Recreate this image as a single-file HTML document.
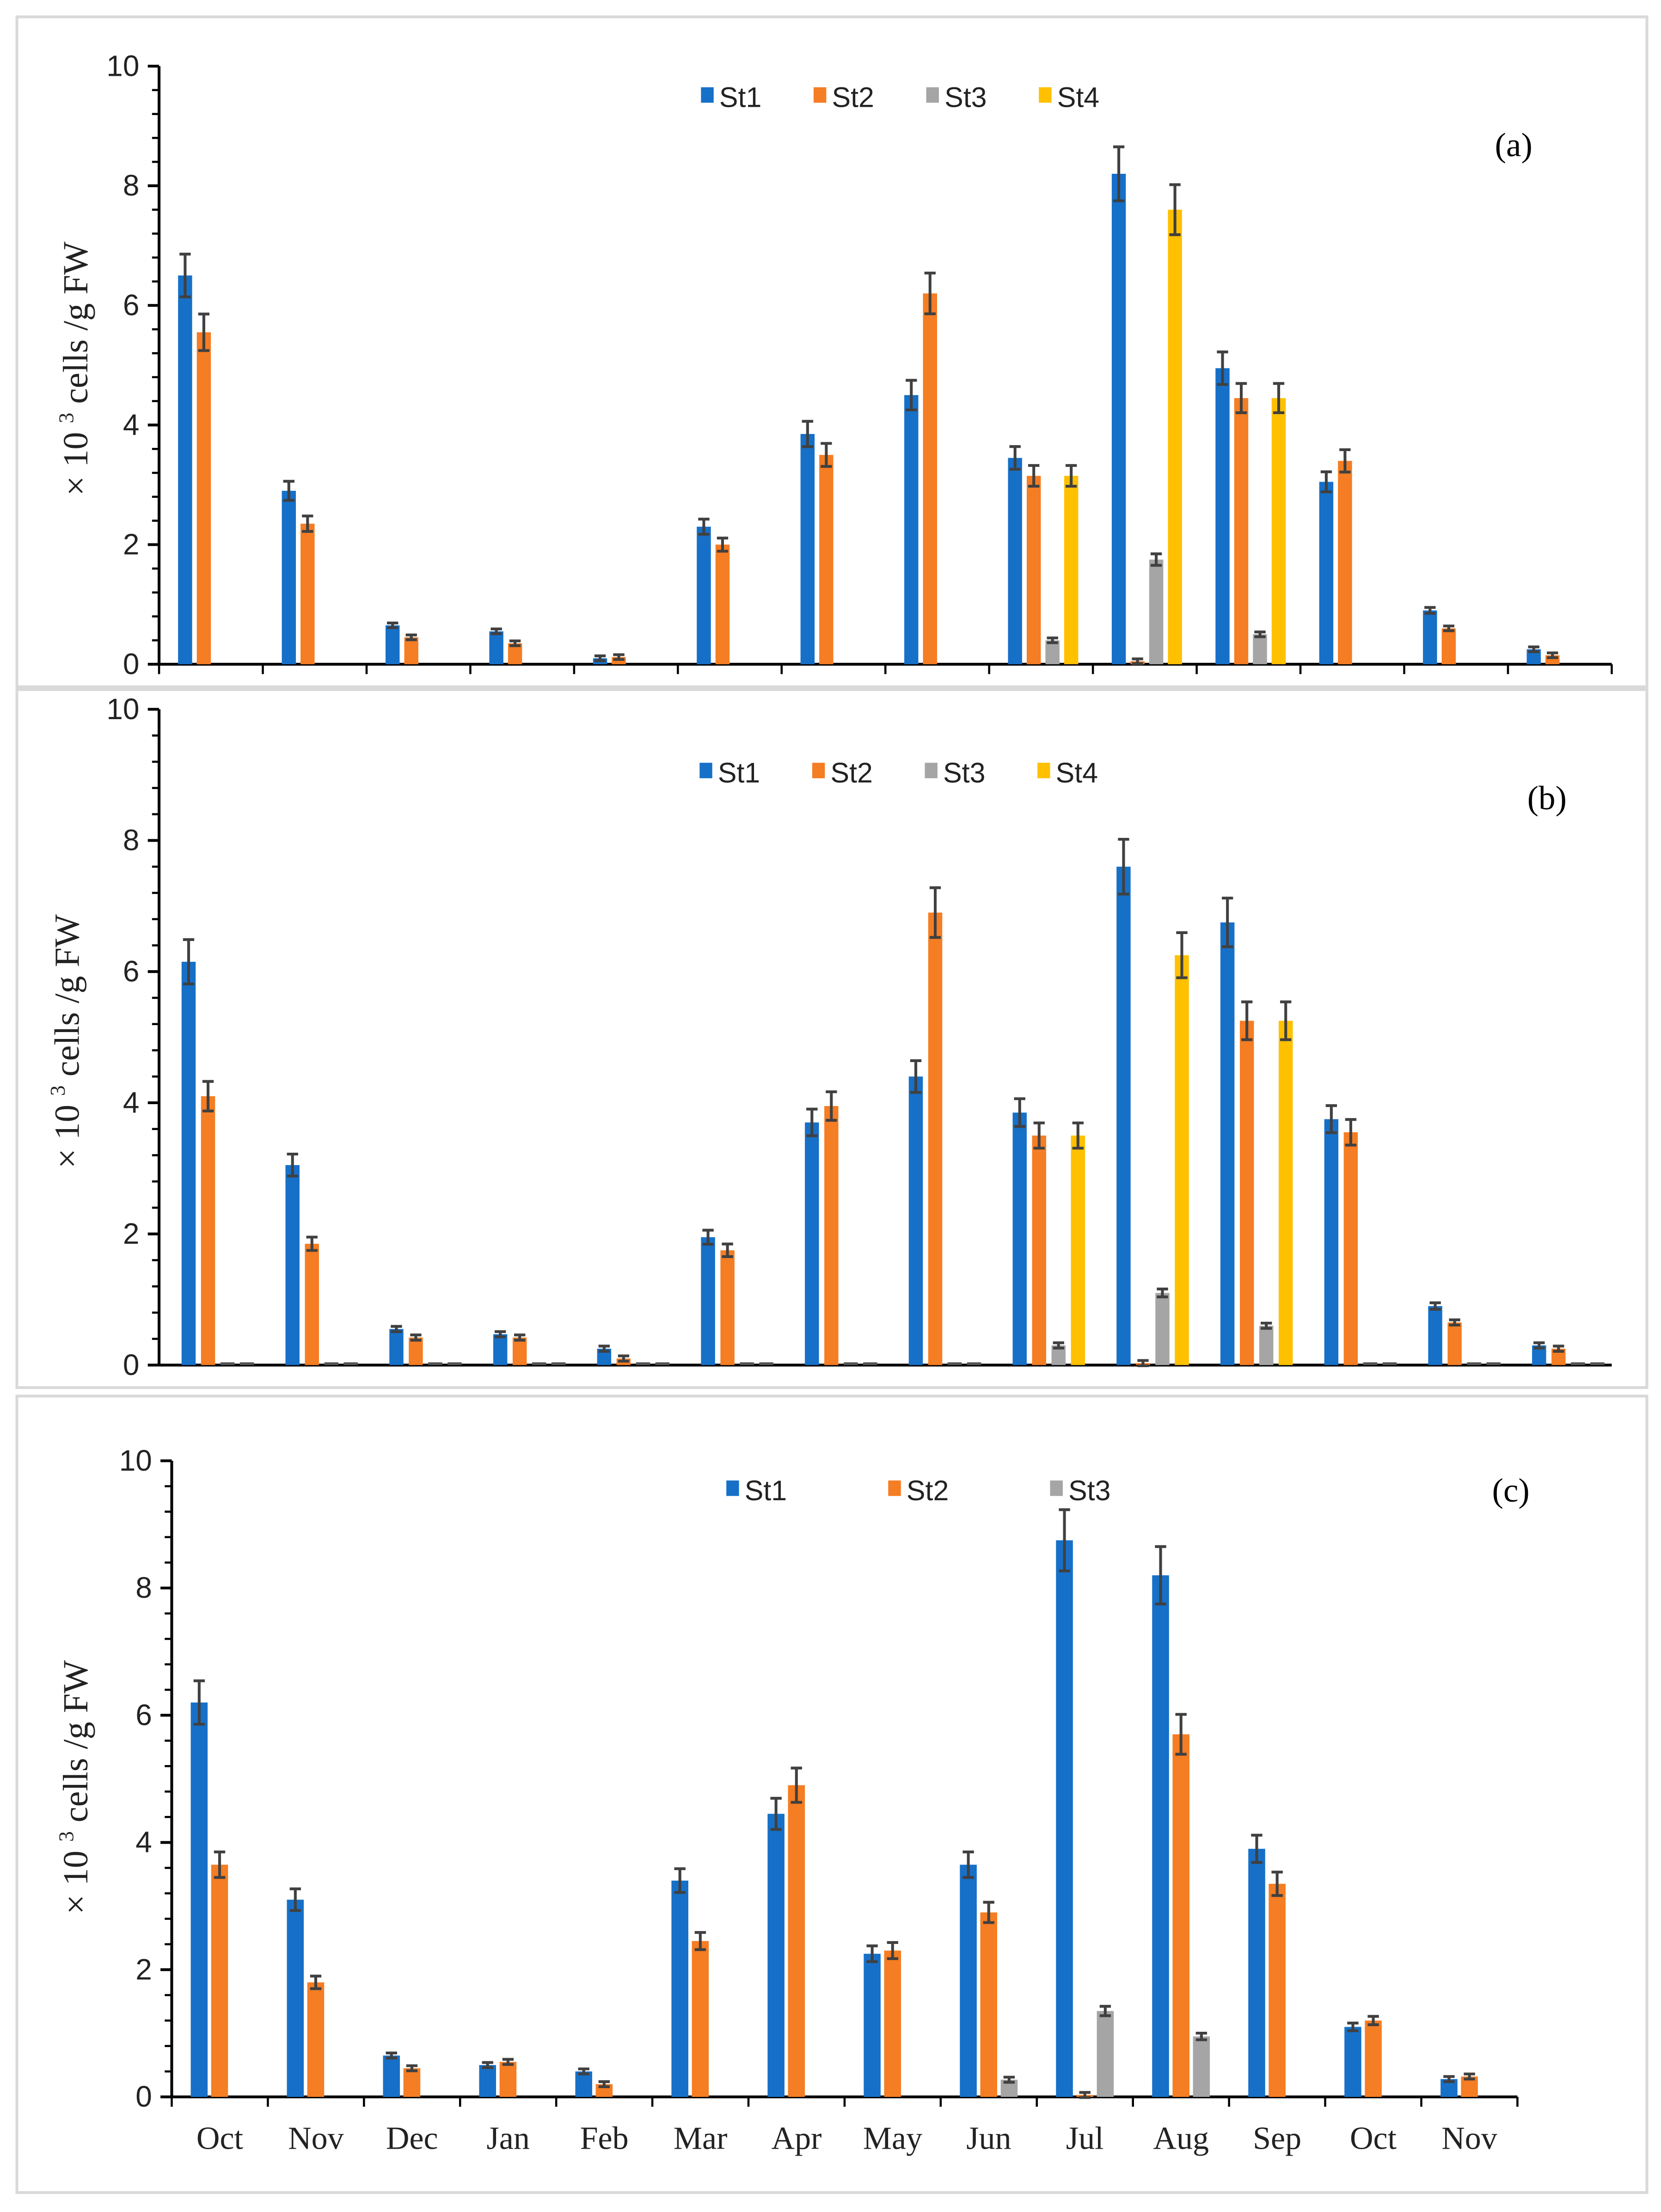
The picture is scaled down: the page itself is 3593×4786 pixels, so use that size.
<!DOCTYPE html>
<html><head><meta charset="utf-8"><style>
html,body{margin:0;padding:0;background:#fff}
svg{display:block}
</style></head><body>
<svg id="fig" xmlns="http://www.w3.org/2000/svg" width="3593" height="4786" viewBox="0 0 1180 1571.8" preserveAspectRatio="none"></svg>
<script>
const months = ["Oct","Nov","Dec","Jan","Feb","Mar","Apr","May","Jun","Jul","Aug","Sep","Oct","Nov"];
const seriesNames = ["St1","St2","St3","St4"];
const yTicks = [0,2,4,6,8,10];
const aSt1 = [6.5,2.9,0.65,0.55,0.1,2.3,3.85,4.5,3.45,8.2,4.95,3.05,0.9,0.25];
const aSt2 = [5.55,2.35,0.45,0.35,0.12,2.0,3.5,6.2,3.15,0.05,4.45,3.4,0.6,0.15];
const aSt3 = [0,0,0,0,0,0,0,0,0.4,1.75,0.5,0,0,0];
const aSt4 = [0,0,0,0,0,0,0,0,3.15,7.6,4.45,0,0,0];
const bSt1 = [6.15,3.05,0.55,0.47,0.25,1.95,3.7,4.4,3.85,7.6,6.75,3.75,0.9,0.3];
const bSt2 = [4.1,1.85,0.42,0.42,0.1,1.75,3.95,6.9,3.5,0.03,5.25,3.55,0.65,0.25];
const bSt3 = [0,0,0,0,0,0,0,0,0.3,1.1,0.6,0,0,0];
const bSt4 = [0,0,0,0,0,0,0,0,3.5,6.25,5.25,0,0,0];
const cSt1 = [6.2,3.1,0.65,0.5,0.4,3.4,4.45,2.25,3.65,8.75,8.2,3.9,1.1,0.28];
const cSt2 = [3.65,1.8,0.45,0.55,0.2,2.45,4.9,2.3,2.9,0.03,5.7,3.35,1.2,0.32];
const cSt3 = [0,0,0,0,0,0,0,0,0.27,1.35,0.95,0,0,0];
const colors = ["#1670c8","#f57d23","#a5a5a5","#ffc000"];
const NS="http://www.w3.org/2000/svg";
const svg=document.getElementById('fig');
function mk(tag,attrs,parent){const e=document.createElementNS(NS,tag);for(const k in attrs)e.setAttribute(k,attrs[k]);(parent||svg).appendChild(e);return e;}

function panel(p){
  const g=mk('g',{});
  
  
  const box=mk('rect',{x:p.bx,y:p.by,width:p.bw,height:p.bh,fill:'none',stroke:'#d9d9d9','stroke-width':2},g);
  
  
  const yS=v=>p.y0-(p.y0-p.y10)*v/10;
  const xS=(i,s)=>p.x1+p.gs*i+p.step*s;
  const ya=mk('line',{x1:p.ax,y1:p.y10,x2:p.ax,y2:p.y0,stroke:'#000','stroke-width':2},g);
  
  
  for(let v=0;v<=10.001;v+=0.4){
    const t=mk('line',{x1:p.ax-5,y1:yS(v),x2:p.ax,y2:yS(v),stroke:'#000','stroke-width':1.5},g);
    
    
  }
  yTicks.forEach(v=>{
    const t=mk('line',{x1:p.ax-8,y1:yS(v),x2:p.ax,y2:yS(v),stroke:'#000','stroke-width':2},g);
    
    
    const l=mk('text',{x:p.ax-14,y:yS(v)+7,'text-anchor':'end','font-size':21,'font-family':'Liberation Sans, sans-serif',fill:'#222'},g);
    l.textContent=v;
    
    
  });
  const xa=mk('line',{x1:p.ax,y1:p.y0,x2:p.xend,y2:p.y0,stroke:'#000','stroke-width':2},g);
  
  
  if(p.xticks){for(let i=0;i<=months.length;i++){
    const t=mk('line',{x1:p.ax+(p.xend-p.ax)*i/months.length,y1:p.y0,x2:p.ax+(p.xend-p.ax)*i/months.length,y2:p.y0+7,stroke:'#000','stroke-width':1.5},g);
    
    
  }}
  if(p.labels){months.forEach((m,i)=>{
    const l=mk('text',{x:p.ax+(p.xend-p.ax)*(i+0.5)/months.length,y:p.y0+37,'text-anchor':'middle','font-size':23,'font-family':'Liberation Serif, serif',fill:'#222'},g);
    l.textContent=m;
    
    
  });}
  p.series.forEach((arr,s)=>{
    arr.forEach((v,i)=>{
      const cx=xS(i,s);
      if(v>0){
        const r=mk('rect',{x:cx-p.bw2/2,y:yS(v),width:p.bw2,height:p.y0-yS(v),fill:colors[s]},g);
        
        
        const e=Math.max(0.04,v*0.055);
        const eb=mk('path',{d:`M${cx-4},${yS(v+e)}H${cx+4}M${cx},${yS(v+e)}V${yS(v-e)}M${cx-4},${yS(v-e)}H${cx+4}`,stroke:'#404040','stroke-width':2,fill:'none'},g);
        
        
      } else if(p.zeroDash){
        const d=mk('line',{x1:cx-5,y1:p.y0-1,x2:cx+5,y2:p.y0-1,stroke:'#555','stroke-width':2},g);
        
        
      }
    });
  });
  p.series.forEach((arr,s)=>{
    const lx=p.legX+p.legStep*s;
    const sw=mk('rect',{x:lx,y:p.legY-8,width:9,height:11,fill:colors[s]},g);
    
    
    const t=mk('text',{x:lx+13,y:p.legY+6,'font-size':20,'font-family':'Liberation Sans, sans-serif',fill:'#222'},g);
    t.textContent=seriesNames[s];
    
    
  });
  const pl=mk('text',{x:p.plx,y:p.ply,'font-size':24,'font-family':'Liberation Serif, serif',fill:'#000'},g);
  pl.textContent='('+p.id+')';
  
  
  const yt=mk('text',{transform:`translate(${p.ytx},${p.yty}) rotate(-90)`,'text-anchor':'middle','font-size':25,'font-family':'Liberation Serif, serif',fill:'#222'},g);
  yt.innerHTML='× 10 <tspan font-size="15" dy="-10">3</tspan><tspan dy="10">  cells /g FW</tspan>';
  
  
}
panel({id:'a',bx:12,by:12,bw:1158,bh:476,ax:113,y0:472,y10:47,xend:1145,x1:131.5,gs:73.7,step:13.3,bw2:10,
  series:[aSt1,aSt2,aSt3,aSt4],xticks:true,labels:false,zeroDash:false,legX:498,legY:70,legStep:80,plx:1062,ply:111,ytx:62,yty:262});
panel({id:'b',bx:12,by:490,bw:1158,bh:496,ax:113,y0:970,y10:504,xend:1145,x1:134,gs:73.8,step:13.8,bw2:10,
  series:[bSt1,bSt2,bSt3,bSt4],xticks:false,labels:false,zeroDash:true,legX:497,legY:550,legStep:80,plx:1085,ply:575,ytx:56,yty:740});
panel({id:'c',bx:12,by:992,bw:1158,bh:566,ax:122,y0:1490,y10:1038,xend:1078,x1:141.5,gs:68.3,step:14.5,bw2:12,
  series:[cSt1,cSt2,cSt3],xticks:true,labels:true,zeroDash:false,legX:516,legY:1060,legStep:115,plx:1060,ply:1067,ytx:62,yty:1270});
</script>
</body></html>
